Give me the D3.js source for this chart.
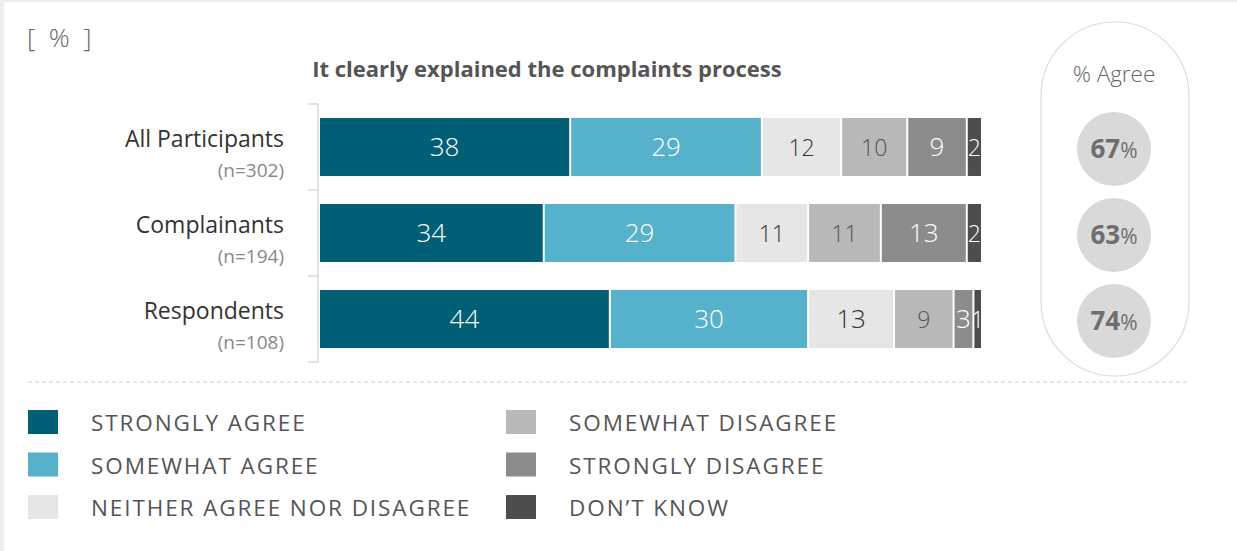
<!DOCTYPE html>
<html>
<head>
<meta charset="utf-8">
<script src="https://cdn.jsdelivr.net/npm/d3@7"></script>
<style>
  html, body { margin: 0; padding: 0; background: #fff; }
  svg { display: block; font-family: "Open Sans", Lato, sans-serif; }
</style>
</head>
<body>
<svg id="chart" width="1237" height="551"></svg>
<script>
// Survey question and groups
const title = "It clearly explained the complaints process";
const groups = ["All Participants", "Complainants", "Respondents"];
const sampleSizes = ["(n=302)", "(n=194)", "(n=108)"];
const responses = ["STRONGLY AGREE", "SOMEWHAT AGREE", "NEITHER AGREE NOR DISAGREE",
                   "SOMEWHAT DISAGREE", "STRONGLY DISAGREE", "DON\u2019T KNOW"];

// Percentages per response, one array per group
const allParticipants = [38, 29, 12, 10, 9, 2];
const complainants    = [34, 29, 11, 11, 13, 2];
const respondents     = [44, 30, 13, 9, 3, 1];
const agreeTotals = [67, 63, 74];

const colors = ["#005f74", "#56b1cb", "#e6e6e6", "#b8b8b8", "#8c8c8c", "#4d4d4d"];
const labelColors = ["#ffffff", "#ffffff", "#333333", "#555555", "#ffffff", "#ffffff"];

const rows = [allParticipants, complainants, respondents];

const svg = d3.select("#chart");

// Page frame
svg.append("rect").attr("x", 0).attr("y", 0).attr("width", 1237).attr("height", 2).attr("fill", "#ededf2");
svg.append("rect").attr("x", 0).attr("y", 0).attr("width", 4).attr("height", 551).attr("fill", "#ededf2");

svg.append("text").attr("x", 27).attr("y", 47)
  .attr("fill", "#666").attr("font-size", 26).attr("font-weight", 300)
  .attr("xml:space", "preserve").text("[  %  ]");

svg.append("text").attr("x", 547).attr("y", 77).attr("text-anchor", "middle")
  .attr("fill", "#555").attr("font-size", 22).attr("font-weight", 700)
  .text(title);

// Scales
const x = d3.scaleLinear().domain([0, 100]).range([320, 981]);
const y = d3.scaleBand().domain(groups).range([104, 362]).paddingInner(0.326).paddingOuter(0.163);

// Left axis bracket
const axisX = 318;
svg.append("line").attr("x1", axisX).attr("x2", axisX).attr("y1", 104).attr("y2", 362)
  .attr("stroke", "#d9d9d9").attr("stroke-width", 1.5);
const tickYs = [104, 362].concat(groups.slice(1).map(g => y(g) - y.step() * y.paddingInner() / 2));
tickYs.forEach(t => {
  svg.append("line").attr("x1", 308).attr("x2", axisX).attr("y1", t).attr("y2", t)
    .attr("stroke", "#d9d9d9").attr("stroke-width", 1.5);
});

// Stacked bars
rows.forEach((vals, i) => {
  const g = groups[i];
  let cum = 0;
  const segs = vals.map((v, k) => { const s = { k, v, x0: cum, x1: cum + v }; cum += v; return s; });
  const row = svg.append("g");
  row.selectAll("rect").data(segs).join("rect")
    .attr("x", d => x(d.x0))
    .attr("y", y(g))
    .attr("width", d => Math.max(0, x(d.x1) - x(d.x0) - (d.k < 5 ? 2 : 0)))
    .attr("height", y.bandwidth())
    .attr("fill", d => colors[d.k]);
  row.selectAll("text").data(segs).join("text")
    .attr("x", d => (x(d.x0) + x(d.x1) - (d.k < 5 ? 2 : 0)) / 2)
    .attr("y", y(g) + y.bandwidth() / 2 + 9)
    .attr("text-anchor", "middle")
    .attr("font-size", d => (d.k < 2 || d.v >= 13 || d.k === 4) ? 26 : 23)
    .attr("font-weight", 300)
    .attr("fill", d => labelColors[d.k])
    .text(d => d.v);

  // Group labels
  svg.append("text").attr("x", 284).attr("y", y(g) + 29)
    .attr("text-anchor", "end").attr("fill", "#333").attr("font-size", 23)
    .text(g);
  svg.append("text").attr("x", 284).attr("y", y(g) + 59)
    .attr("text-anchor", "end").attr("fill", "#888").attr("font-size", 19)
    .text(sampleSizes[i]);
});

// % Agree capsule
svg.append("rect").attr("x", 1041).attr("y", 22).attr("width", 148).attr("height", 354)
  .attr("rx", 74).attr("ry", 74).attr("fill", "none").attr("stroke", "#dcdcdc").attr("stroke-width", 1.2);
svg.append("text").attr("x", 1114).attr("y", 82).attr("text-anchor", "middle")
  .attr("fill", "#666").attr("font-size", 22.5).attr("font-weight", 300).text("% Agree");

rows.forEach((vals, i) => {
  const cy = y(groups[i]) + y.bandwidth() / 2 + 2;
  svg.append("circle").attr("cx", 1114).attr("cy", cy).attr("r", 37).attr("fill", "#d9d9d9");
  const t = svg.append("text").attr("x", 1114).attr("y", cy + 9).attr("text-anchor", "middle")
    .attr("fill", "#6e6e6e").attr("font-weight", 700);
  t.append("tspan").attr("font-size", 26).text(agreeTotals[i]);
  t.append("tspan").attr("font-size", 21).attr("font-weight", 400).text("%");
});

// Separator
svg.append("line").attr("x1", 28).attr("x2", 1190).attr("y1", 382).attr("y2", 382)
  .attr("stroke", "#cfcfcf").attr("stroke-width", 1.2).attr("stroke-dasharray", "4,3");

// Legend
const legend = svg.append("g");
responses.forEach((r, k) => {
  const col = Math.floor(k / 3), rowIdx = k % 3;
  const lx = col === 0 ? 28 : 506;
  const ly = 410 + rowIdx * 42.5;
  legend.append("rect").attr("x", lx).attr("y", ly).attr("width", 30).attr("height", 24)
    .attr("fill", colors[k]);
  legend.append("text").attr("x", lx + 63).attr("y", ly + 21)
    .attr("fill", "#555").attr("font-size", 22.5).attr("letter-spacing", 1.9)
    .text(r);
});
</script>
</body>
</html>
